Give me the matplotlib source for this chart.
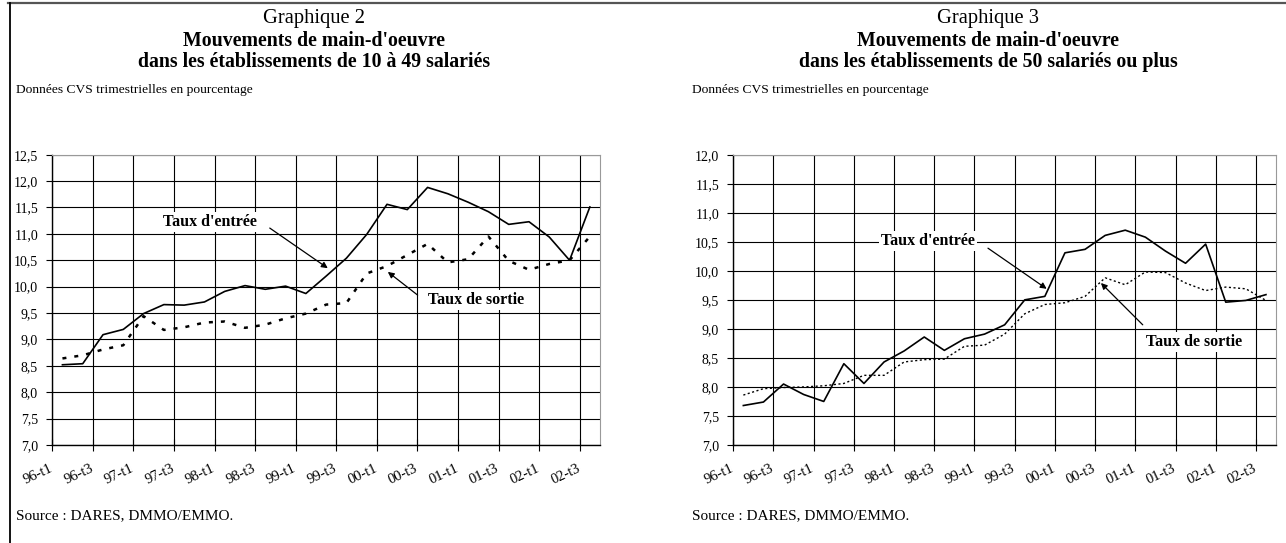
import matplotlib
matplotlib.use("Agg")
import matplotlib.pyplot as plt
from matplotlib.lines import Line2D
from matplotlib.transforms import ScaledTranslation

plt.rcParams["font.family"] = ["Liberation Serif", "DejaVu Serif"]

# Quarter labels shown on the x axis (every second quarter)
tick_labels = ["96-t1", "96-t3", "97-t1", "97-t3", "98-t1", "98-t3", "99-t1",
               "99-t3", "00-t1", "00-t3", "01-t1", "01-t3", "02-t1", "02-t3"]

# Graphique 2 : 10 a 49 salaries (96-t1 .. 02-t3, 27 quarters)
entree_small = [8.52, 8.54, 9.09, 9.19, 9.49, 9.66, 9.65, 9.71, 9.91, 10.02,
                9.95, 10.01, 9.87, 10.20, 10.54, 10.99, 11.56, 11.46, 11.88,
                11.76, 11.60, 11.42, 11.18, 11.23, 10.94, 10.50, 11.51]
sortie_small = [8.64, 8.70, 8.81, 8.89, 9.44, 9.18, 9.23, 9.32, 9.34, 9.22,
                9.28, 9.40, 9.49, 9.66, 9.69, 10.25, 10.39, 10.60, 10.81,
                10.46, 10.52, 10.95, 10.49, 10.32, 10.43, 10.50, 10.95]

# Graphique 3 : 50 salaries ou plus
entree_big = [7.68, 7.74, 8.05, 7.87, 7.75, 8.40, 8.06, 8.43, 8.62, 8.86,
              8.63, 8.83, 8.91, 9.07, 9.50, 9.56, 10.31, 10.37, 10.61, 10.70,
              10.58, 10.34, 10.13, 10.46, 9.46, 9.49, 9.59]
sortie_big = [7.86, 7.97, 7.99, 8.00, 8.02, 8.06, 8.20, 8.20, 8.43, 8.47,
              8.48, 8.70, 8.72, 8.91, 9.26, 9.42, 9.45, 9.56, 9.88, 9.76,
              9.98, 9.97, 9.79, 9.66, 9.72, 9.69, 9.49]

W, H = 1286, 543
fig = plt.figure(figsize=(W / 100, H / 100), dpi=100)


def px(x, y):
    return x / W, 1 - y / H


def setup_axes(rect, ymax, entree, sortie, sortie_style):
    ax = fig.add_axes(rect)
    n = len(entree)
    x = list(range(n))
    ax.plot(x, entree, color="black", lw=1.2, zorder=3)
    ax.plot(x, sortie, color="black", lw=sortie_style[1],
            linestyle=sortie_style[0], zorder=3)
    ax.set_xlim(-0.5, n - 0.5)
    ax.set_ylim(7.0, ymax)

    yt = [7.0 + 0.5 * i for i in range(int(round((ymax - 7.0) / 0.5)) + 1)]
    ax.set_yticks(yt)
    ax.set_yticklabels([f"{v:.1f}".replace(".", ",") for v in yt], fontsize=10)

    # ticks on quarter boundaries, every second quarter
    ax.set_xticks([i - 0.5 for i in range(0, n + 1, 2)])
    ax.set_xticklabels([])
    # rotated quarter labels, shifted a little to the left like Excel does
    lab_tr = ax.get_xaxis_transform() + ScaledTranslation(
        -9.5 / 72, -12 / 72, fig.dpi_scale_trans)
    for i, lab in zip(range(0, n, 2), tick_labels):
        ax.text(i, 0, lab, transform=lab_tr, rotation=25, ha="right",
                va="top", rotation_mode="anchor", fontsize=10.5)
    ax.tick_params(axis="x", direction="inout", length=8, width=0.8)
    ax.tick_params(axis="y", direction="out", length=4.3, width=0.8, pad=6)

    ax.grid(True, which="major", color="black", lw=0.8, zorder=0)
    ax.set_axisbelow(True)
    for s in ["top", "right"]:
        ax.spines[s].set_color("#999999")
    for s in ["left", "bottom"]:
        ax.spines[s].set_linewidth(1.0)
    return ax


ax1 = setup_axes([52.3 / W, 98 / H, 547.7 / W, 290.3 / H], 12.5,
                 entree_small, sortie_small, ((0, (1.6, 3.2)), 1.8))
ax2 = setup_axes([733.3 / W, 98 / H, 542.7 / W, 290.3 / H], 12.0,
                 entree_big, sortie_big, ((0, (1.5, 1.8)), 1.0))

box = dict(facecolor="white", edgecolor="none", pad=1.5)
arrow = dict(arrowstyle="-|>", color="black", lw=0.9, mutation_scale=9,
             shrinkA=0, shrinkB=0)

# annotations, graphique 2
ax1.text(7.27, 11.23, "Taux d'entrée", fontsize=11.5, fontweight="bold",
         ha="center", va="center", bbox=box, zorder=4)
ax1.annotate("", xy=(13.08, 10.35), xytext=(10.22, 11.11), arrowprops=arrow)
ax1.text(20.37, 9.75, "Taux de sortie", fontsize=11.5, fontweight="bold",
         ha="center", va="center", bbox=box, zorder=4)
ax1.annotate("", xy=(16.04, 10.28), xytext=(17.51, 9.84), arrowprops=arrow)

# annotations, graphique 3
ax2.text(9.18, 10.51, "Taux d'entrée", fontsize=11.5, fontweight="bold",
         ha="center", va="center", bbox=box, zorder=4)
ax2.annotate("", xy=(15.09, 9.69), xytext=(12.17, 10.39), arrowprops=arrow)
ax2.text(22.42, 8.78, "Taux de sortie", fontsize=11.5, fontweight="bold",
         ha="center", va="center", bbox=box, zorder=4)
ax2.annotate("", xy=(17.79, 9.79), xytext=(19.87, 9.07), arrowprops=arrow)

# titles and notes
titles = [
    (314, "Graphique 2", "Mouvements de main-d'oeuvre",
     "dans les établissements de 10 à 49 salariés"),
    (988, "Graphique 3", "Mouvements de main-d'oeuvre",
     "dans les établissements de 50 salariés ou plus"),
]
for cx, t1, t2, t3 in titles:
    fig.text(*px(cx, 19), t1, fontsize=14.8, ha="center", va="center")
    fig.text(*px(cx, 41), t2, fontsize=14.3, fontweight="bold",
             ha="center", va="center")
    fig.text(*px(cx, 62), t3, fontsize=14.3, fontweight="bold",
             ha="center", va="center")

for lx in (16, 692):
    fig.text(*px(lx, 90), "Données CVS trimestrielles en pourcentage",
             fontsize=9.7, ha="left", va="center")
for lx in (16, 692):
    fig.text(*px(lx, 516), "Source : DARES, DMMO/EMMO.",
             fontsize=11, ha="left", va="center")

# page frame: top rule and left rule
fig.add_artist(Line2D([8 / W, 1], [1 - 2.5 / H, 1 - 2.5 / H], color="#555555",
                      lw=1.6, transform=fig.transFigure))
fig.add_artist(Line2D([10 / W, 10 / W], [0, 1 - 2.5 / H], color="black",
                      lw=1.3, transform=fig.transFigure))

fig.savefig("out.png", dpi=100)
